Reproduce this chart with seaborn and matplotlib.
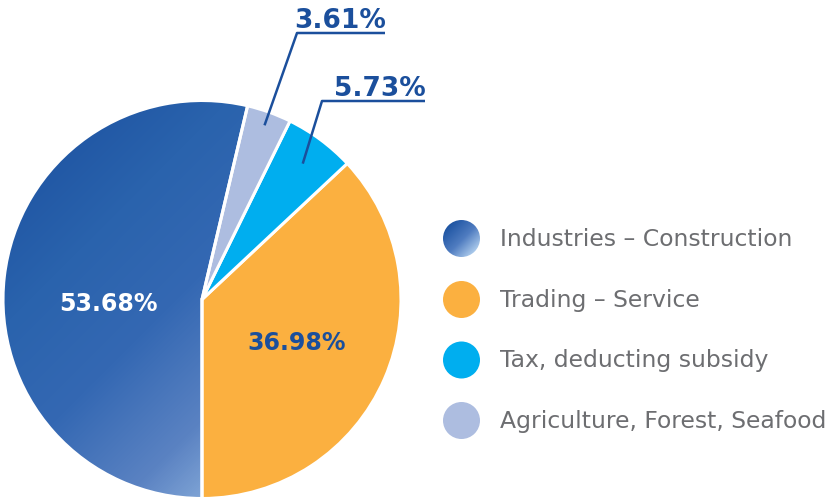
import numpy as np
import matplotlib
matplotlib.use("Agg")
import matplotlib.pyplot as plt
from matplotlib.colors import LinearSegmentedColormap
from matplotlib.patches import Circle
import seaborn as sns

# data
sectors = ["Industries – Construction", "Trading – Service",
           "Tax, deducting subsidy", "Agriculture, Forest, Seafood"]
shares = [53.68, 36.98, 5.73, 3.61]
share_labels = ["53.68%", "36.98%", "5.73%", "3.61%"]
colors = ["#2a63ad", "#fbb040", "#00aeef", "#adbde0"]

LABEL_BLUE = "#1b4f9c"
LEGEND_GREY = "#6d6e71"

sns.set_style("white")
plt.rcParams["font.family"] = ["DejaVu Sans"]

W, H = 827, 499
fig = plt.figure(figsize=(W / 100, H / 100), dpi=100)

# pie placed in pixel space (image coords, y down)
cx, cy, r = 202, 299.5, 199
pad = 1.01
ax = fig.add_axes([(cx - r * pad) / W, (H - cy - r * pad) / H,
                   2 * r * pad / W, 2 * r * pad / H])

# counterclockwise from the bottom: trading, tax, agriculture, industries
order = [1, 2, 3, 0]
wedges, _ = ax.pie([shares[i] for i in order],
                   colors=[colors[i] for i in order],
                   startangle=-90, counterclock=True, radius=1,
                   wedgeprops=dict(edgecolor="white", linewidth=2.2))
wedge_of = {order[k]: wedges[k] for k in range(len(order))}

# gradient fill for the industries wedge
ind_cmap = LinearSegmentedColormap.from_list(
    "ind", ["#1f55a3", "#2a63ad", "#3468b3", "#5a82c2", "#9fc1e6"])
xx, yy = np.meshgrid(np.linspace(-1, 1, 400), np.linspace(-1, 1, 400))
ind = wedge_of[0]
ind.set_facecolor("none")
im = ax.imshow(xx - yy, cmap=ind_cmap, extent=(-1, 1, -1, 1), origin="lower",
               vmin=-1.6, vmax=1.35, zorder=ind.get_zorder() - 0.5)
im.set_clip_path(ind)
ax.set_xlim(-pad, pad)
ax.set_ylim(-pad, pad)
ax.set_aspect("equal")
ax.axis("off")

# overlay in image pixel coords for labels and legend
ov = fig.add_axes([0, 0, 1, 1])
ov.set_xlim(0, W)
ov.set_ylim(H, 0)
ov.patch.set_alpha(0)
ov.axis("off")


def wedge_point(w, rr):
    t = np.deg2rad((w.theta1 + w.theta2) / 2)
    return cx + rr * r * np.cos(t), cy - rr * r * np.sin(t)


# inner labels
ov.text(108, 304, share_labels[0], color="white", fontsize=17, weight="bold",
        ha="center", va="center")
ov.text(297, 343, share_labels[1], color=LABEL_BLUE, fontsize=17,
        weight="bold", ha="center", va="center")

# callout labels with underline + leader
callouts = {3: (297, 385, 33, 0.93), 2: (322, 425, 101, 0.85)}
for idx, (x0, x1, yl, rr) in callouts.items():
    px_, py_ = wedge_point(wedge_of[idx], rr)
    ov.plot([px_, x0, x1], [py_, yl, yl], color=LABEL_BLUE, lw=1.8,
            solid_capstyle="butt")
    ov.text(x1 + 1, yl - 5, share_labels[idx], color=LABEL_BLUE, fontsize=19,
            weight="bold", ha="right", va="baseline")

# legend
leg_y = [238.5, 299.5, 360, 420.5]
leg_cmap = LinearSegmentedColormap.from_list("leg", ["#1f55a3", "#4f7cc0", "#b7d4f1"])
for i, name in enumerate(sectors):
    y = leg_y[i]
    circ = Circle((461.5, y), 18.5, facecolor=colors[i], edgecolor="none")
    ov.add_patch(circ)
    if i == 0:
        circ.set_facecolor("none")
        gx, gy = np.meshgrid(np.linspace(-1, 1, 100), np.linspace(-1, 1, 100))
        gim = ov.imshow(gx + gy, cmap=leg_cmap, vmin=-1.4, vmax=1.6,
                        extent=(443, 480, y + 18.5, y - 18.5), origin="upper")
        gim.set_clip_path(circ)
    ov.text(500, y + 7.5, name, color=LEGEND_GREY, fontsize=16.9,
            ha="left", va="baseline")

ov.set_xlim(0, W)
ov.set_ylim(H, 0)

fig.savefig("out.png", dpi=100)
